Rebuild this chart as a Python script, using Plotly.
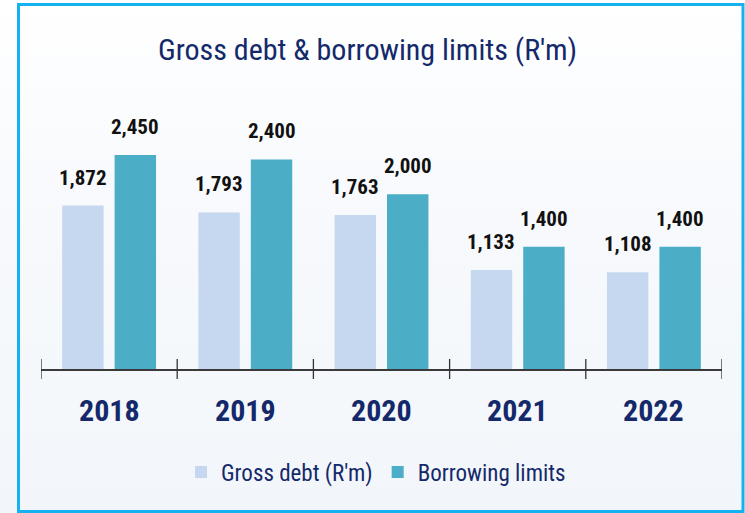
import base64
import plotly.graph_objects as go

# Chart data
years = ["2018", "2019", "2020", "2021", "2022"]
gross_debt = [1872, 1793, 1763, 1133, 1108]
borrowing_limits = [2450, 2400, 2000, 1400, 1400]
series_names = ["Gross debt (R'm)", "Borrowing limits"]
title_text = "Gross debt &amp; borrowing limits (R'm)"

# Styling
W, H = 745, 513
M_L, M_R, M_T, M_B = 41, 23, 107, 144
PW, PH = W - M_L - M_R, H - M_T - M_B
NAVY = "#14296a"
LIGHT = "#c6d8ef"
TEAL = "#4badc6"
FRAME = "#14b2f0"
FONT = "Roboto Condensed, Roboto, sans-serif"
BAR_GAP = 0.23
GROUP_GAP = 0.21


def px_x(p):
    return (p - M_L) / PW


def px_y(p):
    return (H - M_B - p) / PH


fig = go.Figure()
fig.add_trace(go.Bar(x=years, y=gross_debt, name=series_names[0],
                     marker=dict(color=LIGHT, line=dict(width=0))))
fig.add_trace(go.Bar(x=years, y=borrowing_limits, name=series_names[1],
                     marker=dict(color=TEAL, line=dict(width=0))))

annotations = []
offset = (1 - BAR_GAP) / 4
for i, (g, b) in enumerate(zip(gross_debt, borrowing_limits)):
    for xpos, val in ((i - offset, g), (i + offset, b)):
        annotations.append(dict(x=xpos, y=val, xref="x", yref="y", text=f"{val:,}",
                                showarrow=False, yanchor="bottom", yshift=14,
                                font=dict(family=FONT, size=21, color="#111111",
                                          weight="bold")))
    annotations.append(dict(x=i, y=0, xref="x", yref="y", text=years[i], showarrow=False,
                            yanchor="middle", yshift=-41,
                            font=dict(family=FONT, size=30, color=NAVY, weight="bold")))

# Tick marks crossing the axis at category boundaries
shapes = []
for k in range(len(years) + 1):
    shapes.append(dict(type="line", xref="x", yref="paper", x0=k - 0.5, x1=k - 0.5,
                       y0=-10 / PH, y1=10 / PH, line=dict(color="#333333", width=1.3)))
# Outer frame
shapes.append(dict(type="rect", xref="paper", yref="paper",
                   x0=px_x(18.5), x1=px_x(743), y0=px_y(511.5), y1=px_y(4.5),
                   line=dict(color=FRAME, width=3), fillcolor="rgba(0,0,0,0)", layer="above"))

# Soft vertical background gradient
svg = ('<svg xmlns="http://www.w3.org/2000/svg" width="745" height="513" preserveAspectRatio="none">'
       '<defs><linearGradient id="g" x1="0" y1="0" x2="0" y2="1">'
       '<stop offset="0" stop-color="#ffffff"/><stop offset="0.35" stop-color="#f8fafd"/>'
       '<stop offset="1" stop-color="#f2f6fa"/></linearGradient></defs>'
       '<rect width="745" height="513" fill="url(#g)"/></svg>')
bg_uri = "data:image/svg+xml;base64," + base64.b64encode(svg.encode()).decode()

fig.update_layout(
    width=W, height=H,
    margin=dict(l=M_L, r=M_R, t=M_T, b=M_B, pad=0),
    paper_bgcolor="#f6f8fb", plot_bgcolor="rgba(0,0,0,0)",
    barmode="group", bargap=BAR_GAP, bargroupgap=GROUP_GAP,
    title=dict(text=title_text, x=px_x(377), xanchor="center", y=1 - 49 / H, yanchor="middle",
               font=dict(family=FONT, size=30, color=NAVY)),
    xaxis=dict(type="category", range=[-0.5, len(years) - 0.5], showticklabels=False,
               ticks="", showline=True, linecolor="#3a3a3a", linewidth=1.5,
               showgrid=False, zeroline=False, fixedrange=True),
    yaxis=dict(range=[0, 3000], visible=False, showgrid=False, zeroline=False, fixedrange=True),
    legend=dict(orientation="h", x=px_x(376), xanchor="center", y=px_y(472), yanchor="middle",
                font=dict(family=FONT, size=23, color=NAVY),
                bgcolor="rgba(0,0,0,0)", itemclick=False, itemdoubleclick=False),
    annotations=annotations,
    shapes=shapes,
    images=[dict(source=bg_uri, xref="paper", yref="paper", x=px_x(0), y=px_y(0),
                 sizex=W / PW, sizey=H / PH, xanchor="left", yanchor="top",
                 sizing="stretch", layer="below")],
    showlegend=True,
)

fig.write_html("out.html", config=dict(displayModeBar=False))
